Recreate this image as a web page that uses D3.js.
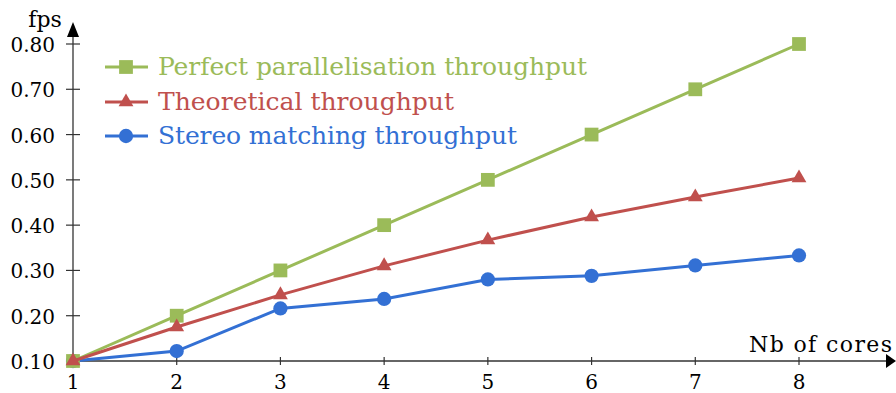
<!DOCTYPE html>
<html>
<head>
<meta charset="utf-8">
<script src="https://cdn.jsdelivr.net/npm/d3@7"></script>
<style>
  body { margin: 0; background: #fff; }
  text { font-family: "DejaVu Serif", "Liberation Serif", serif; }
</style>
</head>
<body>
<div id="chart"></div>
<script>
// data
var cores = [1, 2, 3, 4, 5, 6, 7, 8];
var perfect = [0.10, 0.20, 0.30, 0.40, 0.50, 0.60, 0.70, 0.80];
var theoretical = [0.10, 0.175, 0.246, 0.31, 0.367, 0.418, 0.462, 0.504];
var stereo = [0.10, 0.122, 0.216, 0.237, 0.280, 0.288, 0.311, 0.333];
var yTicks = [0.10, 0.20, 0.30, 0.40, 0.50, 0.60, 0.70, 0.80];
var seriesNames = ["Perfect parallelisation throughput", "Theoretical throughput", "Stereo matching throughput"];

var width = 896, height = 393;

var x = d3.scaleLinear().domain([1, 8]).range([73, 799]);
var y = d3.scaleLinear().domain([0.1, 0.8]).range([361, 44]);

var svg = d3.select("#chart").append("svg")
    .attr("width", width)
    .attr("height", height);

var series = [
    {name: seriesNames[0], values: perfect, color: "#9bbb59", shape: d3.symbolSquare, size: 190, textW: 429},
    {name: seriesNames[1], values: theoretical, color: "#c0504d", shape: d3.symbolTriangle, size: 95, textW: 296},
    {name: seriesNames[2], values: stereo, color: "#3370d4", shape: d3.symbolCircle, size: 160, textW: 359}
];
// draw order in plot area: stereo under, then perfect, theoretical on top
var drawOrder = [series[2], series[0], series[1]];

var axisColor = "#333";

// x axis line + arrow
svg.append("line")
    .attr("x1", x(1)).attr("x2", 886)
    .attr("y1", y(0.1)).attr("y2", y(0.1))
    .attr("stroke", axisColor).attr("stroke-width", 1.3);
svg.append("path")
    .attr("d", "M886," + (y(0.1) - 7) + " L896," + y(0.1) + " L886," + (y(0.1) + 7) + " Z")
    .attr("fill", "#000");

// y axis line + arrow
svg.append("line")
    .attr("x1", x(1)).attr("x2", x(1))
    .attr("y1", y(0.1)).attr("y2", 34)
    .attr("stroke", axisColor).attr("stroke-width", 1.3);
svg.append("path")
    .attr("d", "M" + (x(1) - 6) + ",37 L" + x(1) + ",22 L" + (x(1) + 6) + ",37 Z")
    .attr("fill", "#000");

// y ticks
var yt = svg.append("g");
yt.selectAll("line").data(yTicks).enter().append("line")
    .attr("x1", x(1) - 7).attr("x2", x(1) + 7)
    .attr("y1", function(d) { return y(d); })
    .attr("y2", function(d) { return y(d); })
    .attr("stroke", axisColor).attr("stroke-width", 1.2);
yt.selectAll("text").data(yTicks).enter().append("text")
    .attr("x", x(1) - 18)
    .attr("y", function(d) { return y(d) + 8; })
    .attr("text-anchor", "end")
    .attr("font-size", 20)
    .text(function(d) { return d.toFixed(2); });

// x ticks
var xt = svg.append("g");
xt.selectAll("line").data(cores).enter().append("line")
    .attr("x1", function(d) { return x(d); })
    .attr("x2", function(d) { return x(d); })
    .attr("y1", y(0.1) - 4).attr("y2", y(0.1) + 4)
    .attr("stroke", axisColor).attr("stroke-width", 1.2);
xt.selectAll("text").data(cores).enter().append("text")
    .attr("x", function(d) { return x(d); })
    .attr("y", 389)
    .attr("text-anchor", "middle")
    .attr("font-size", 20)
    .text(function(d) { return d; });

// axis labels
svg.append("text").attr("x", 45).attr("y", 27)
    .attr("text-anchor", "middle").attr("font-size", 22).text("fps");
svg.append("text").attr("x", 749).attr("y", 352)
    .attr("font-size", 22)
    .attr("textLength", 143).attr("lengthAdjust", "spacing")
    .text("Nb of cores");

// lines and markers
var line = d3.line()
    .x(function(d, i) { return x(cores[i]); })
    .y(function(d) { return y(d); });

drawOrder.forEach(function(s) {
    svg.append("path")
        .attr("d", line(s.values))
        .attr("fill", "none")
        .attr("stroke", s.color)
        .attr("stroke-width", 3);
    svg.append("g").selectAll("path").data(s.values).enter().append("path")
        .attr("transform", function(d, i) { return "translate(" + x(cores[i]) + "," + y(d) + ")"; })
        .attr("d", d3.symbol().type(s.shape).size(s.size))
        .attr("fill", s.color);
});

// legend
var legendY = [67, 102, 136];
series.forEach(function(s, i) {
    var g = svg.append("g").attr("transform", "translate(0," + legendY[i] + ")");
    g.append("line").attr("x1", 105).attr("x2", 148).attr("y1", 0).attr("y2", 0)
        .attr("stroke", s.color).attr("stroke-width", 3);
    g.append("path").attr("transform", "translate(126,0)")
        .attr("d", d3.symbol().type(s.shape).size(s.size))
        .attr("fill", s.color);
    g.append("text").attr("x", 158).attr("y", 8)
        .attr("font-size", 25)
        .attr("fill", s.color)
        .attr("textLength", s.textW).attr("lengthAdjust", "spacing")
        .text(s.name);
});
</script>
</body>
</html>
